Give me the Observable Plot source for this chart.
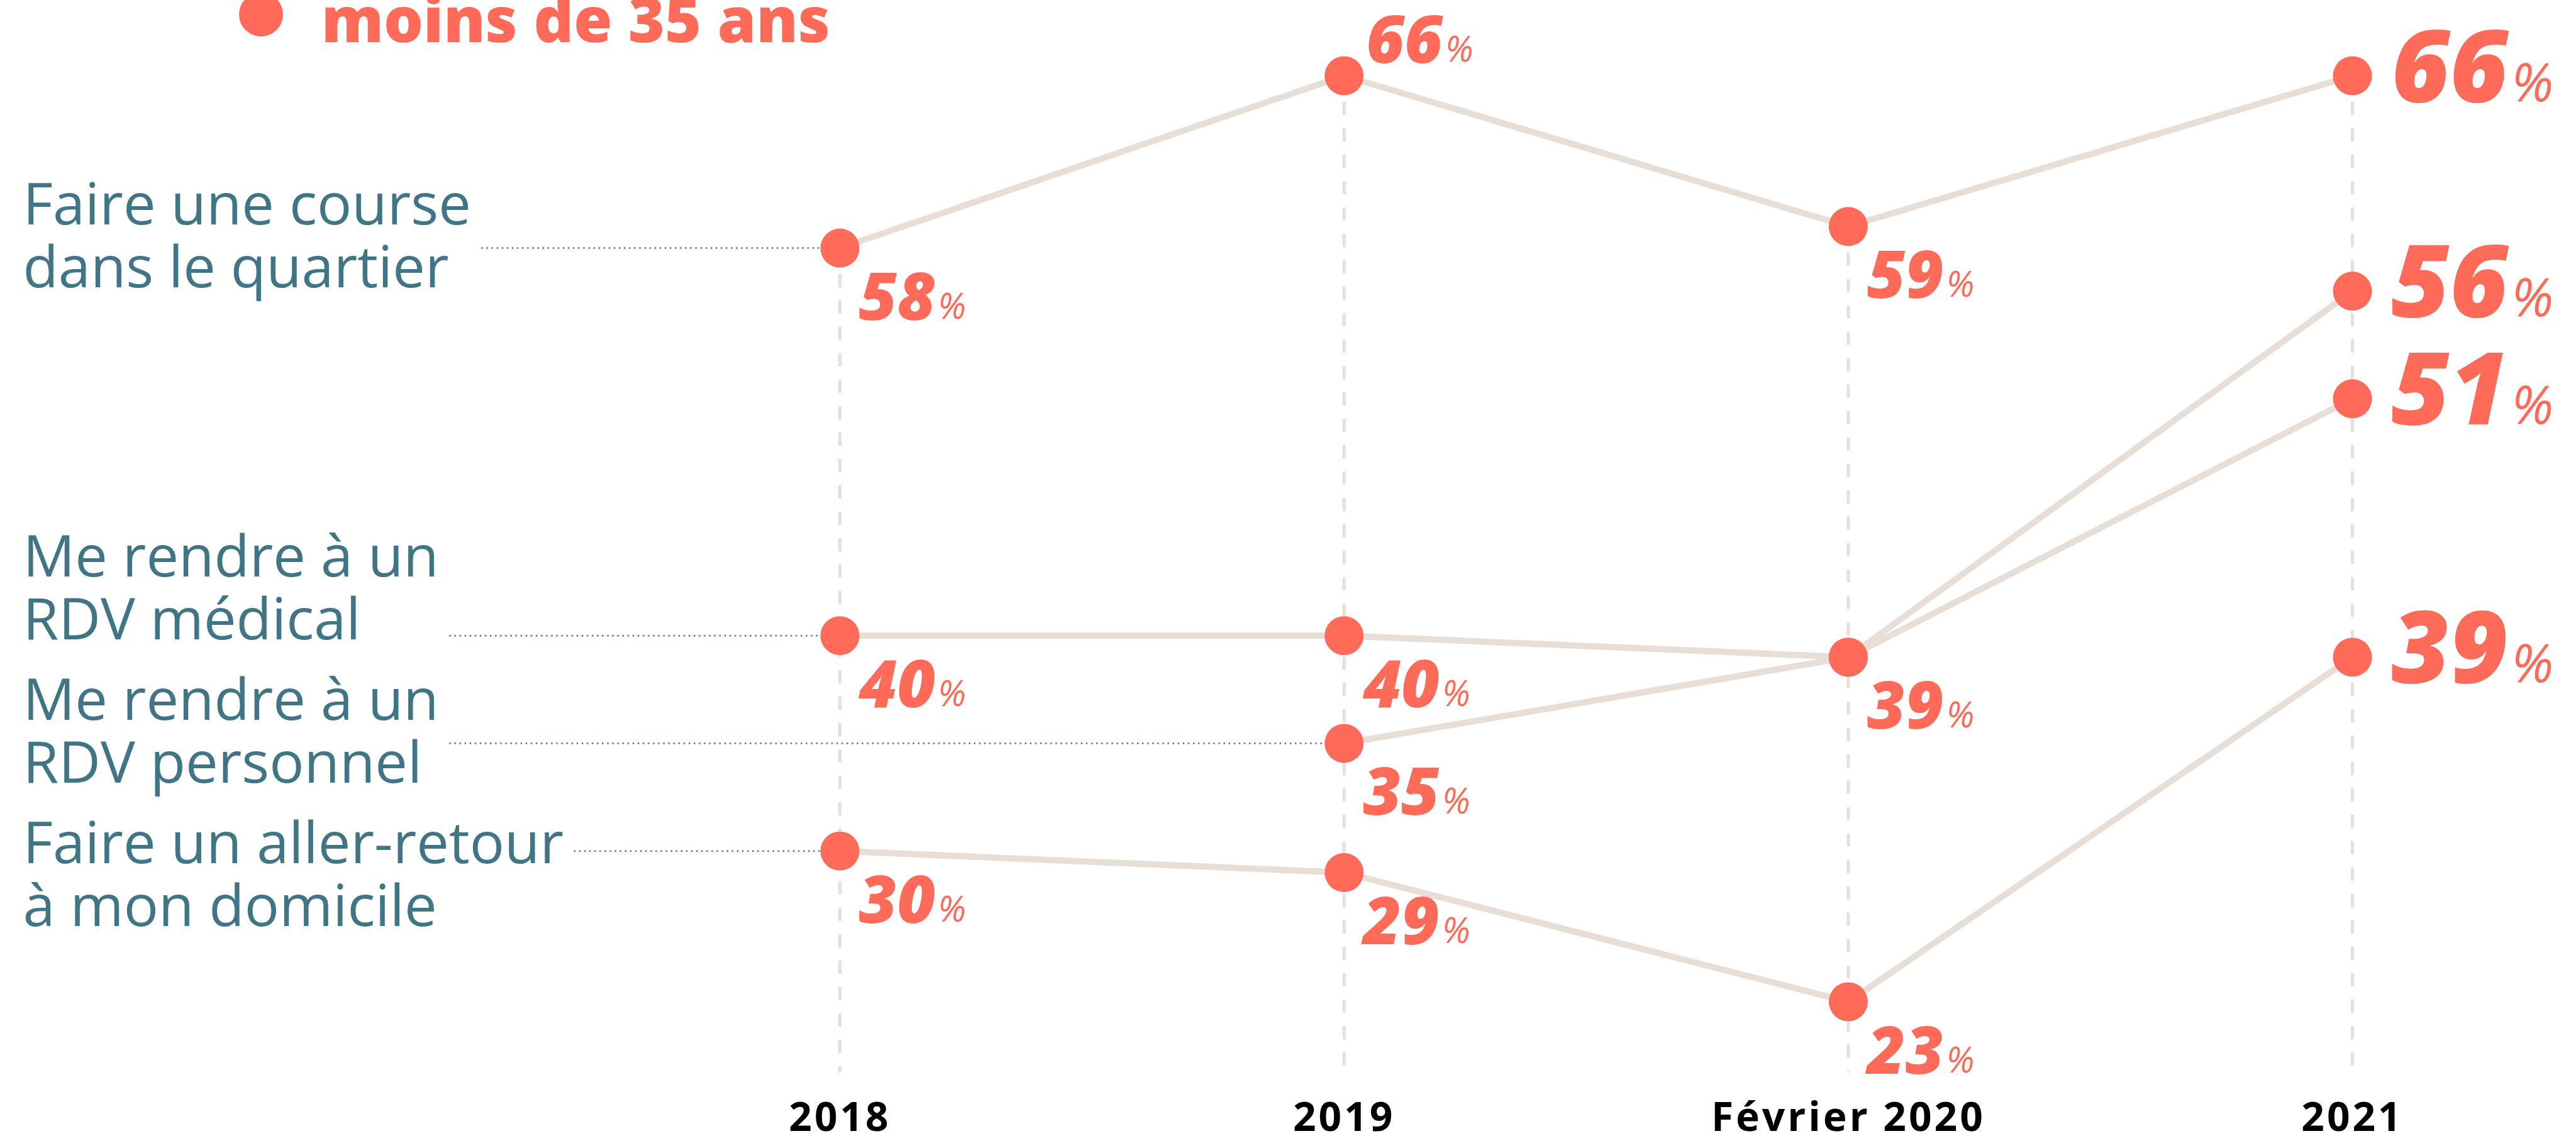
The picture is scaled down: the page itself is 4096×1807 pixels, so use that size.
<!DOCTYPE html>
<html lang="fr">
<head>
<meta charset="utf-8">
<script src="https://cdn.jsdelivr.net/npm/d3@7"></script>
<script src="https://cdn.jsdelivr.net/npm/@observablehq/plot@0.6"></script>
<style>
  html, body { margin: 0; padding: 0; background: #fff; overflow: hidden; }
  #wrap { position: relative; width: 4096px; height: 1807px; }
  #legend { position: absolute; left: 0; top: 0; z-index: 2; }
  g[aria-label="x-axis tick label"] text { letter-spacing: 4px; }
</style>
</head>
<body>
<div id="wrap">
  <svg id="legend" width="1400" height="110" xmlns="http://www.w3.org/2000/svg">
    <circle cx="415" cy="23" r="35" fill="#ff6b58"></circle>
    <text id="legendText" x="511" y="67" fill="#ff6b58" font-family="'Open Sans'" font-weight="800" font-size="99"></text>
  </svg>
  <div id="chart"></div>
</div>
<script>
// ---- data ----
const legendLabel = "moins de 35 ans";
const periods = ["2018", "2019", "Février 2020", "2021"];
const seriesNames = [
  "Faire une course\ndans le quartier",
  "Me rendre à un\nRDV médical",
  "Me rendre à un\nRDV personnel",
  "Faire un aller-retour\nà mon domicile"
];
const courseValues = [58, 66, 59, 66];
const medicalValues = [40, 40, 39, 56];
const personnelValues = [null, 35, 39, 51];
const allerRetourValues = [30, 29, 23, 39];

// ---- layout / style ----
const W = 4096, H = 1807;
const COL0 = 1335, COL3 = 3740, LEFT = 36;
const TOP_PX = 120, LOW_PX = 1593, FRAME_BOTTOM = 1706;
const coral = "#ff6b58", teal = "#407585", lineCol = "#e8ded8", gridCol = "#e8dfd9";

document.getElementById("legendText").textContent = legendLabel;

const seriesValues = [courseValues, medicalValues, personnelValues, allerRetourValues];
const points = seriesNames.flatMap((name, s) =>
  seriesValues[s].map((v, i) => ({series: name, idx: i, value: v})).filter(d => d.value != null));

const vMax = d3.max(points, d => d.value), vMin = d3.min(points, d => d.value);
const pxPerUnit = (LOW_PX - TOP_PX) / (vMax - vMin);
const yDomain = [vMin - (FRAME_BOTTOM - LOW_PX) / pxPerUnit, vMax + TOP_PX / pxPerUnit];
const yPx = v => FRAME_BOTTOM - (v - yDomain[0]) * pxPerUnit;
const pxToVal = p => yDomain[0] + (FRAME_BOTTOM - p) / pxPerUnit;

const COL = (COL3 - COL0) / (periods.length - 1);
const xDomain = [-(COL0 - LEFT) / COL, (periods.length - 1) + (W - COL3) / COL];

// text measurement
const ctx = document.createElement("canvas").getContext("2d");
function tw(str, font) { ctx.font = font; return ctx.measureText(str).width; }

// left labels + leaders, with collision avoidance between the label blocks
const labelFont = "400 92px 'Open Sans'";
const CENTER_OFF = 12.5, BLOCK_GAP = 228;
const leaders = seriesNames.map((name, s) => {
  const first = points.find(d => d.series === name);
  const w = d3.max(name.split("\n"), l => tw(l, labelFont));
  return {name, idx: first.idx, value: first.value, x1: xDomain[0] + (w + 17) / COL, c: yPx(first.value) + CENTER_OFF};
});
const order = leaders.slice().sort((a, b) => a.c - b.c);
for (let it = 0; it < 300; ++it) {
  for (let i = 0; i < order.length - 1; ++i) {
    const gap = order[i + 1].c - order[i].c;
    if (gap < BLOCK_GAP) { const s = (BLOCK_GAP - gap) / 2; order[i].c -= s; order[i + 1].c += s; }
  }
}
leaders.forEach(d => d.labelValue = pxToVal(d.c));

// unique value labels per period
const labelMap = new Map();
for (const d of points) labelMap.set(d.idx + "|" + d.value, d);
const labels = [...labelMap.values()];
const lastIdx = periods.length - 1;
const below = labels.filter(d => d.idx < lastIdx && d.value !== vMax);
const above = labels.filter(d => d.idx < lastIdx && d.value === vMax);
const last = labels.filter(d => d.idx === lastIdx);

const smallSize = 105, bigSize = 160;
const smallW = tw("00", `italic 800 ${smallSize}px 'Open Sans'`);
const bigW = tw("00", `italic 800 ${bigSize}px 'Open Sans'`);

const numStyle = {fontFamily: "Open Sans", fontWeight: 800, fontStyle: "italic", fill: coral, textAnchor: "start", lineAnchor: "bottom"};
const pctStyle = {fontFamily: "Open Sans", fontWeight: 400, fontStyle: "italic", fill: coral, textAnchor: "start", lineAnchor: "bottom", text: () => "%"};

const chart = Plot.plot({
  width: W,
  height: H,
  marginLeft: LEFT,
  marginRight: 0,
  marginTop: 0,
  marginBottom: H - FRAME_BOTTOM,
  style: {background: "white", fontFamily: "Open Sans", overflow: "visible"},
  x: {domain: xDomain, label: null},
  y: {domain: yDomain, axis: null},
  marks: [
    Plot.ruleX(periods.map((p, i) => ({idx: i, top: d3.max(points.filter(d => d.idx === i), d => d.value)})),
      {x: "idx", y1: "top", y2: () => yDomain[0], stroke: gridCol, strokeWidth: 5, strokeDasharray: "21,21"}),
    Plot.ruleY(leaders, {y: "value", x1: "x1", x2: "idx", stroke: teal, strokeWidth: 2.5, strokeDasharray: "2.4,5.7"}),
    Plot.line(points, {x: "idx", y: "value", z: "series", stroke: lineCol, strokeWidth: 10}),
    Plot.dot(points, {x: "idx", y: "value", r: 31, fill: coral, stroke: null}),
    Plot.text(leaders, {y: "labelValue", text: "name", frameAnchor: "left", textAnchor: "start", lineAnchor: "middle",
      lineHeight: 100 / 92, fontSize: 92, fontFamily: "Open Sans", fontWeight: 400, fill: teal, dy: -32}),
    Plot.text(below, {x: "idx", y: "value", text: d => String(d.value), fontSize: smallSize, dx: 30, dy: 114, ...numStyle}),
    Plot.text(below, {x: "idx", y: "value", fontSize: 56, dx: 30 + smallW + 4, dy: 112, ...pctStyle}),
    Plot.text(above, {x: "idx", y: "value", text: d => String(d.value), fontSize: smallSize, dx: 35, dy: -21, ...numStyle}),
    Plot.text(above, {x: "idx", y: "value", fontSize: 56, dx: 35 + smallW + 4, dy: -23, ...pctStyle}),
    Plot.text(last, {x: "idx", y: "value", text: d => String(d.value), fontSize: bigSize, dx: 62, dy: 41, ...numStyle}),
    Plot.text(last, {x: "idx", y: "value", fontSize: 84, dx: 62 + bigW + 5, dy: 40, ...pctStyle}),
    Plot.axisX({ticks: d3.range(periods.length), tickFormat: i => periods[i], tickSize: 0, tickPadding: 47,
      fontSize: 64, fontWeight: 700, fontFamily: "Open Sans", fill: "#000", label: null})
  ]
});
document.getElementById("chart").appendChild(chart);
</script>
</body>
</html>
